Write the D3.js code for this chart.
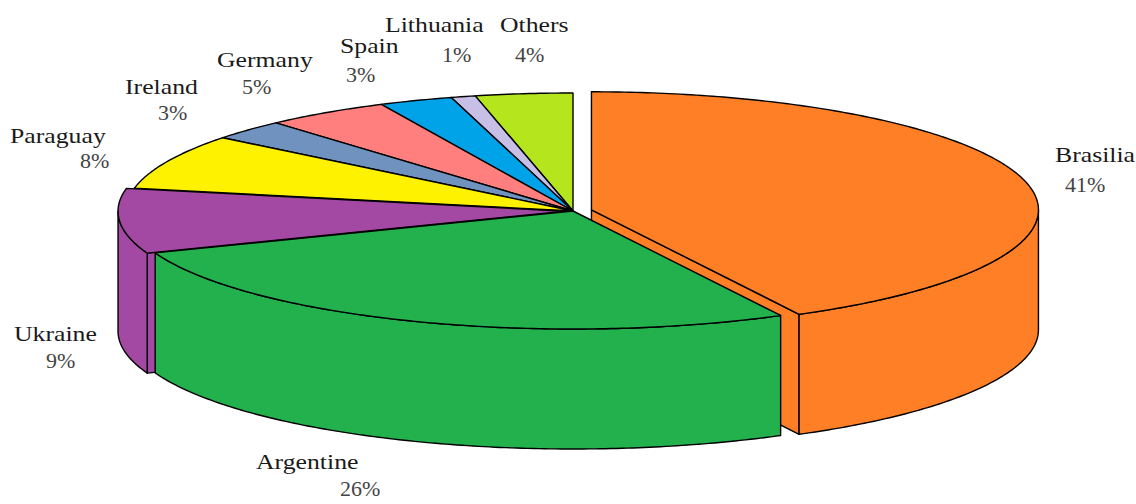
<!DOCTYPE html>
<html>
<head>
<meta charset="utf-8">
<script src="https://cdn.jsdelivr.net/npm/d3@7"></script>
<style>
  body { margin: 0; background: #fff; }
  text { font-family: "Liberation Serif", "Times New Roman", serif; }
</style>
</head>
<body>
<div id="chart"></div>
<script>
// slice data, clockwise from 12 o'clock
const countries = ["Brasilia", "Argentine", "Ukraine", "Paraguay", "Ireland", "Germany", "Spain", "Lithuania", "Others"];
const shares = [41, 26, 9, 8, 3, 5, 3, 1, 4];
const colors = ["#ff7f27", "#22b14c", "#a349a4", "#fff200", "#7092be", "#ff7f7f", "#00a2e8", "#c8bfe7", "#b5e61d"];
const explode = [19, 0, 8, 0, 0, 0, 0, 0, 0]; // px pulled out along the slice middle

// label anchors: [name x, name baseline, pct x, pct baseline]
const labelPos = [
    [1055, 162, 1065, 192],
    [256, 469, 340, 496],
    [14, 341, 46, 368],
    [10, 143, 80, 168],
    [125, 94, 158, 120],
    [217, 67, 242, 94],
    [340, 53, 346, 82],
    [385, 32, 442, 62],
    [500, 32, 515, 62]
];

const width = 1136,
      height = 504;
const cx = 573, cy = 211, rx = 447, ry = 118, depth = 120;

const data = countries.map((c, i) => ({ name: c, share: shares[i], color: colors[i], explode: explode[i], label: labelPos[i] }));

let svg = d3.select("#chart")
    .append("svg")
    .attr("width", width)
    .attr("height", height)
    .attr("viewBox", [0, 0, width, height]);

// unit disc -> screen (flattened ellipse)
let x = d3.scaleLinear().domain([-1, 1]).range([cx - rx, cx + rx]);
let y = d3.scaleLinear().domain([-1, 1]).range([cy + ry, cy - ry]);

// the old 3D renderer drifts the angles a bit clockwise, most on the left side
const drift = a => a + (8 * Math.PI / 180) * Math.sin(Math.PI * Math.pow(a / (2 * Math.PI), 1.8));

let slices = d3.pie().sort(null).value(d => d.share)(data);

slices.forEach(s => {
    s.a0 = drift(s.startAngle);
    s.a1 = drift(s.endAngle);
    s.mid = (s.a0 + s.a1) / 2;
    let e = s.data.explode / rx;
    s.ox = e * Math.sin(s.mid);
    s.oy = e * Math.cos(s.mid);
});

const line = d3.line();

function pt(s, a, r, z) {
    return [x(r * Math.sin(a) + s.ox), y(r * Math.cos(a) + s.oy) + z];
}

function arcPts(s, a0, a1, z) {
    let n = Math.max(2, Math.ceil((a1 - a0) * 80));
    return d3.range(n + 1).map(i => pt(s, a0 + (a1 - a0) * i / n, 1, z));
}

function cutFace(s, a) {
    return [pt(s, a, 0, 0), pt(s, a, 1, 0), pt(s, a, 1, depth), pt(s, a, 0, depth)];
}

// back slices first
let order = slices.slice().sort((a, b) => Math.cos(b.mid) - Math.cos(a.mid));

let g = svg.append("g")
    .attr("stroke", "#000")
    .attr("stroke-width", 1.4)
    .attr("stroke-linejoin", "round");

order.forEach(s => {
    let slice = g.append("g").attr("fill", s.data.color);
    let a0 = s.a0, a1 = s.a1;

    // radial cut faces that turn toward the viewer
    if (Math.sin(a0) < -1e-6) slice.append("path").attr("d", line(cutFace(s, a0)) + "Z");
    if (Math.sin(a1) > 1e-6) slice.append("path").attr("d", line(cutFace(s, a1)) + "Z");

    // front wall
    let f0 = Math.max(a0, Math.PI / 2), f1 = Math.min(a1, 3 * Math.PI / 2);
    if (f0 < f1) {
        let wall = arcPts(s, f0, f1, 0).concat(arcPts(s, f0, f1, depth).reverse());
        slice.append("path").attr("d", line(wall) + "Z");
    }

    // top
    let top = [pt(s, 0, 0, 0)].concat(arcPts(s, a0, a1, 0));
    slice.append("path").attr("d", line(top) + "Z");
});

// labels
let labels = svg.selectAll(".label")
    .data(data)
    .join("g")
    .attr("class", "label");

labels.append("text")
    .attr("transform", d => `translate(${d.label[0]},${d.label[1]}) scale(1.17,1)`)
    .attr("font-size", 22)
    .attr("fill", "#1a1a1a")
    .text(d => d.name);

labels.append("text")
    .attr("x", d => d.label[2])
    .attr("y", d => d.label[3])
    .attr("font-size", 22)
    .attr("fill", "#444")
    .text(d => d.share + "%");
</script>
</body>
</html>
